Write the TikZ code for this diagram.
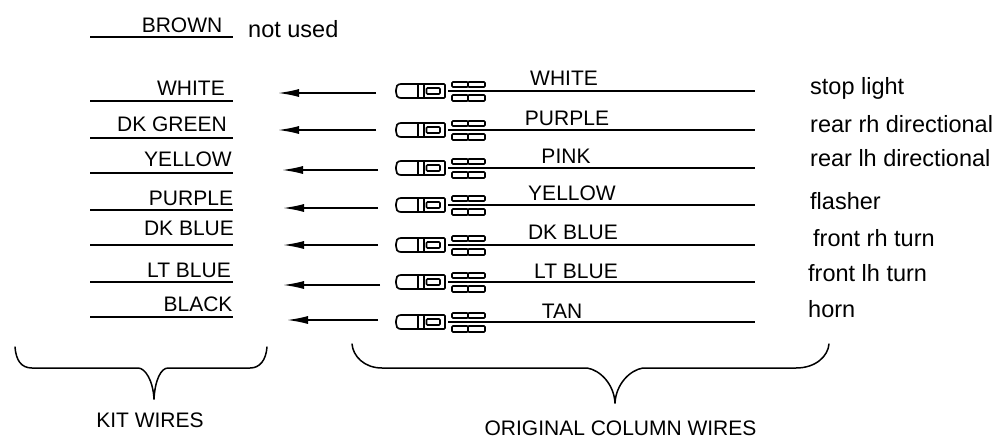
\documentclass[tikz,border=0pt]{standalone}
\usepackage{fontspec}
\setmainfont{Liberation Sans}
\usetikzlibrary{arrows.meta}
\tikzset{
  wire/.style={line width=1.5pt,black},
  lbl/.style={font=\fontsize{21}{23}\selectfont,inner sep=0pt,text=black},
  captext/.style={font=\fontsize{21}{23}\selectfont,inner sep=0pt,text=black},
  func/.style={font=\fontsize{23.5}{25}\selectfont,inner sep=0pt,anchor=base west,text=black},
  feed/.style={line width=1.5pt,-{Latex[length=21pt,width=8pt]}},
  conn/.style={line width=1.7pt,rounded corners=1pt},
  brace/.style={line width=1.5pt,line cap=round},
}
\newcommand{\plugshape}[1]{%
  \draw[conn] (445,#1-7) -- (402,#1-7) .. controls (397,#1-7) and (396,#1-4) .. (396,#1) .. controls (396,#1+4) and (397,#1+7) .. (402,#1+7) -- (445,#1+7) -- cycle;
  \draw[conn] (418,#1-7) -- (418,#1+7);
  \draw[conn] (424,#1-7) -- (424,#1+7);
  \draw[conn] (426.5,#1-3) rectangle (440,#1+3);
  \draw[conn] (452,#1-9) rectangle (468,#1-4);
  \draw[conn] (468,#1-9) rectangle (485,#1-4);
  \draw[conn] (452,#1+4) rectangle (468,#1+10);
  \draw[conn] (468,#1+4) rectangle (485,#1+10);
}
\begin{document}
\begin{tikzpicture}[x=1pt,y=-1pt]
\useasboundingbox (0,0) rectangle (996,442);
% kit wires
\foreach \n/\y/\tx/\ty/\t in {
  a/37/182/25.5/BROWN,
  b/101/191/88/WHITE,
  c/138/172/124.5/DK GREEN,
  d/173/188/159.5/YELLOW,
  e/210/191/198.5/PURPLE,
  f/245/189/228.5/DK BLUE,
  g/282/189/270.5/LT BLUE,
  h/317/198/304.5/BLACK}{
  \coordinate (kl\n) at (90,\y);
  \coordinate (kr\n) at (232.5,\y);
  \draw[wire] (kl\n) -- (kr\n);
  \node[lbl] (kt\n) at (\tx,\ty) {\t};
}
\node[func] (nu) at (248,37) {not used};
% connectors, wires and arrows
\foreach \n/\y/\ax/\ay/\bx/\tx/\ty/\t/\fx/\fy/\f in {
  a/91/278/93/376/564/78/WHITE/810/94/stop light,
  b/130/278/130/376/567/118/PURPLE/810/132/rear rh directional,
  c/168/282/170/378/566/156/PINK/810/166/rear lh directional,
  d/205/283/208/378/572/193/YELLOW/810/209/flasher,
  e/245/283/245/378/573/232/DK BLUE/813/246/front rh turn,
  f/282/283/285/380/576/271/LT BLUE/808/281/front lh turn,
  g/322/287/320/378/562/311/TAN/808/317/horn}{
  \plugshape{\y}
  \coordinate (wl\n) at (448,\y);
  \coordinate (wr\n) at (755,\y);
  \draw[wire] (wl\n) -- (wr\n);
  \coordinate (as\n) at (\bx,\ay);
  \coordinate (ae\n) at (\ax,\ay);
  \draw[feed] (as\n) -- (ae\n);
  \node[lbl] (wt\n) at (\tx,\ty) {\t};
  \node[func] (fn\n) at (\fx,\fy) {\f};
}
% braces
\draw[brace] (15,347) .. controls (16,360) and (21,368) .. (32,368) -- (138,368)
  .. controls (145,368) and (153,380) .. (154,399);
\draw[brace] (267,347) .. controls (266,360) and (260,368) .. (250,368) -- (168,368)
  .. controls (161,368) and (155,380) .. (154,399);
\draw[brace] (352,344) .. controls (353,356) and (364,368) .. (382,368) -- (587,368)
  .. controls (600,370) and (614,384) .. (615,403);
\draw[brace] (829,344) .. controls (828,356) and (816,368) .. (796,368) -- (643,368)
  .. controls (630,370) and (616,384) .. (615,403);
\node[captext] (kit) at (150,420.5) {KIT WIRES};
\node[captext] (orig) at (620.5,428.5) {ORIGINAL COLUMN WIRES};
\end{tikzpicture}
\end{document}
